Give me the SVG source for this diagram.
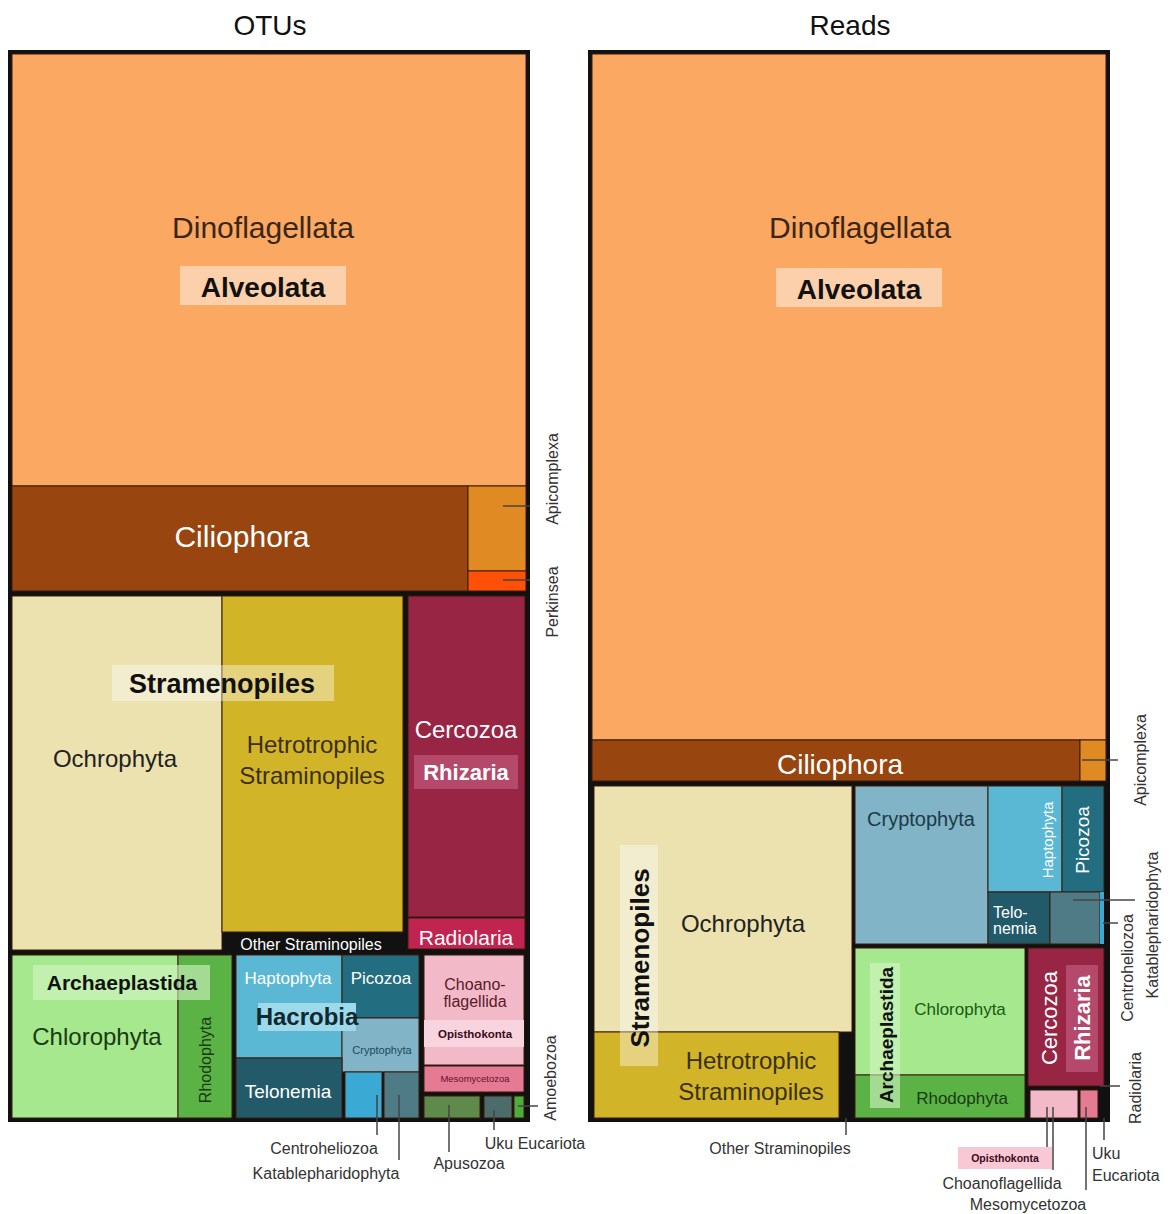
<svg xmlns="http://www.w3.org/2000/svg" width="1173" height="1214" viewBox="0 0 1173 1214">
<style>
text{font-family:"Liberation Sans",Arial,sans-serif;}
.frame{fill:#111;stroke:#111;stroke-width:4;}
.c{stroke:#3a1a0a;stroke-width:1;}
.t{text-anchor:middle;}
.b{font-weight:bold;}
.w{fill:#fff;}
.lead{stroke:#444;stroke-width:1.5;fill:none;}
.small{font-size:16px;fill:#333;}
.dino{fill:#FBA862;}
.cil{fill:#98450F;}
.api{fill:#E08A24;}
.och{fill:#ECE2B0;}
.het{fill:#D2B428;}
.cer{fill:#992545;}
.chl{fill:#A5E88D;}
.rho{fill:#5BB346;}
.hap{fill:#5AB8D4;}
.pic{fill:#226D80;}
.cry{fill:#80B4C6;}
.tel{fill:#225A6A;}
.cen{fill:#3AAAD4;}
.kat{fill:#4F7B86;}
.cho{fill:#F2B9C8;}
.mes{fill:#E57A94;}
</style>
<rect width="1173" height="1214" fill="#fff"/>
<text x="270" y="35" class="t" font-size="28" fill="#111">OTUs</text>
<text x="850" y="35" class="t" font-size="28" fill="#111">Reads</text>

<!-- LEFT TREEMAP -->
<g id="otus">
<rect class="frame" x="10" y="52" width="518" height="1068"/>
<g id="L-Dinoflagellata"><rect class="c dino" x="12" y="54" width="514" height="432"/>
<text x="263" y="238" class="t" font-size="30" fill="#3a2616">Dinoflagellata</text></g>
<g id="L-Alveolata"><rect x="180" y="266" width="166" height="39" fill="#FDD0AC"/>
<text x="263" y="297" class="t b" font-size="28" fill="#111">Alveolata</text></g>
<g id="L-Ciliophora"><rect class="c cil" x="12" y="486" width="456" height="105"/>
<text x="242" y="547" class="t w" font-size="30">Ciliophora</text></g>
<g id="L-Apicomplexa"><rect class="c api" x="468" y="486" width="58" height="85"/></g>
<g id="L-Perkinsea"><rect class="c" x="468" y="571" width="58" height="20" fill="#FF5008"/></g>
<g id="L-Ochrophyta"><rect class="c och" x="12" y="596" width="210" height="354"/>
<text x="115" y="767" class="t" font-size="24" fill="#222">Ochrophyta</text></g>
<g id="L-Hetrotrophic"><rect class="c het" x="222" y="596" width="181" height="336"/>
<text x="312" y="753" class="t" font-size="24" fill="#3a3010">Hetrotrophic</text>
<text x="312" y="784" class="t" font-size="24" fill="#3a3010">Straminopiles</text></g>
<g id="L-Stramenopiles"><rect x="112" y="665" width="222" height="36" fill="#fff" fill-opacity="0.4"/>
<text x="222" y="693" class="t b" font-size="27" fill="#111">Stramenopiles</text></g>
<g id="L-OtherStraminopiles"><text x="311" y="950" class="t w" font-size="16">Other Straminopiles</text></g>
<g id="L-Cercozoa"><rect class="c cer" x="408" y="596" width="117" height="321"/>
<text x="466" y="738" class="t w" font-size="24">Cercozoa</text></g>
<g id="L-Rhizaria"><rect x="414" y="755" width="104" height="34" fill="#B5496B"/>
<text x="466" y="780" class="t b w" font-size="22">Rhizaria</text></g>
<g id="L-Radiolaria"><rect class="c" x="408" y="918" width="117" height="31" fill="#C02450"/>
<text x="466" y="945" class="t w" font-size="21">Radiolaria</text></g>
<g id="L-Chlorophyta"><rect class="c chl" x="12" y="955" width="166" height="163"/>
<text x="97" y="1045" class="t" font-size="24" fill="#1a3a10">Chlorophyta</text></g>
<g id="L-Rhodophyta"><rect class="c rho" x="178" y="955" width="54" height="163"/>
<text transform="translate(211,1060) rotate(-90)" class="t" font-size="16" fill="#1a3a10">Rhodophyta</text></g>
<g id="L-Archaeplastida"><rect x="33" y="965" width="177" height="35" fill="#D4F5C6" fill-opacity="0.6"/>
<text x="122" y="990" class="t b" font-size="21" fill="#111">Archaeplastida</text></g>
<g id="L-Haptophyta"><rect class="c hap" x="236" y="955" width="106" height="103"/>
<text x="288" y="984" class="t w" font-size="17">Haptophyta</text></g>
<g id="L-Picozoa"><rect class="c pic" x="342" y="955" width="77" height="63"/>
<text x="381" y="984" class="t w" font-size="17">Picozoa</text></g>
<g id="L-Cryptophyta"><rect class="c cry" x="342" y="1018" width="77" height="54"/>
<text x="382" y="1054" class="t" font-size="11" fill="#1d4a5a">Cryptophyta</text></g>
<g id="L-Telonemia"><rect class="c tel" x="236" y="1058" width="106" height="60"/>
<text x="288" y="1098" class="t w" font-size="19">Telonemia</text></g>
<g id="L-Centroheliozoa"><rect class="c cen" x="345" y="1072" width="37" height="46"/></g>
<g id="L-Katablepharidophyta"><rect class="c kat" x="384" y="1072" width="35" height="46"/></g>
<g id="L-Hacrobia"><rect x="258" y="1003" width="98" height="28" fill="#9DD9E8"/>
<text x="307" y="1025" class="t b" font-size="24" fill="#102830">Hacrobia</text></g>
<g id="L-Choanoflagellida"><rect class="c cho" x="424" y="955" width="100" height="110"/>
<text x="475" y="990" class="t" font-size="16" fill="#5a1a2a">Choano-</text>
<text x="475" y="1007" class="t" font-size="16" fill="#5a1a2a">flagellida</text></g>
<g id="L-Opisthokonta"><rect x="424" y="1020" width="100" height="27" fill="#F8D5DE"/>
<text x="475" y="1038" class="t b" font-size="11.5" fill="#3a0a1a">Opisthokonta</text></g>
<g id="L-Mesomycetozoa"><rect class="c mes" x="424" y="1066" width="100" height="26"/>
<text x="475" y="1082" class="t" font-size="9.5" fill="#6a1028">Mesomycetozoa</text></g>
<g id="L-Apusozoa"><rect class="c" x="424" y="1096" width="56" height="22" fill="#5E8B4C"/></g>
<g id="L-UkuEucariota"><rect class="c" x="484" y="1096" width="28" height="22" fill="#4C6C6C"/></g>
<g id="L-Amoebozoa"><rect class="c" x="514" y="1096" width="10" height="22" fill="#4CAE3A"/></g>
</g>

<!-- RIGHT TREEMAP -->
<g id="reads">
<rect class="frame" x="590" y="52" width="518" height="1068"/>
<g id="R-Dinoflagellata"><rect class="c dino" x="592" y="54" width="514" height="686"/>
<text x="860" y="238" class="t" font-size="30" fill="#3a2616">Dinoflagellata</text></g>
<g id="R-Alveolata"><rect x="776" y="268" width="166" height="39" fill="#FDD0AC"/>
<text x="859" y="299" class="t b" font-size="28" fill="#111">Alveolata</text></g>
<g id="R-Ciliophora"><rect class="c cil" x="592" y="740" width="488" height="41"/>
<text x="840" y="774" class="t w" font-size="28">Ciliophora</text></g>
<g id="R-Apicomplexa"><rect class="c api" x="1080" y="740" width="26" height="41"/></g>
<g id="R-Ochrophyta"><rect class="c och" x="594" y="786" width="258" height="246"/>
<text x="743" y="932" class="t" font-size="24" fill="#222">Ochrophyta</text></g>
<g id="R-Hetrotrophic"><rect class="c het" x="594" y="1032" width="245" height="86"/>
<text x="751" y="1069" class="t" font-size="24" fill="#3a3010">Hetrotrophic</text>
<text x="751" y="1100" class="t" font-size="24" fill="#3a3010">Straminopiles</text></g>
<g id="R-Stramenopiles"><rect x="620" y="845" width="38" height="221" fill="#fff" fill-opacity="0.4"/>
<text transform="translate(649,958) rotate(-90)" class="t b" font-size="26" fill="#111">Stramenopiles</text></g>
<g id="R-Cryptophyta"><rect class="c cry" x="855" y="786" width="133" height="158"/>
<text x="921" y="826" class="t" font-size="20" fill="#1d3a48">Cryptophyta</text></g>
<g id="R-Haptophyta"><rect class="c hap" x="988" y="786" width="74" height="106"/>
<text transform="translate(1053,840) rotate(-90)" class="t w" font-size="15">Haptophyta</text></g>
<g id="R-Picozoa"><rect class="c pic" x="1062" y="786" width="42" height="106"/>
<text transform="translate(1089,840) rotate(-90)" class="t w" font-size="19">Picozoa</text></g>
<g id="R-Telonemia"><rect class="c tel" x="988" y="892" width="62" height="52"/>
<text x="993" y="918" font-size="16" class="w">Telo-</text>
<text x="993" y="934" font-size="16" class="w">nemia</text></g>
<g id="R-Katablepharidophyta"><rect class="c kat" x="1050" y="892" width="50" height="52"/></g>
<g id="R-Centroheliozoa"><rect x="1100" y="892" width="4" height="52" fill="#3AAAD4"/></g>
<g id="R-Chlorophyta"><rect class="c chl" x="855" y="948" width="170" height="127"/>
<text x="960" y="1015" class="t" font-size="17" fill="#1a5a10">Chlorophyta</text></g>
<g id="R-Rhodophyta"><rect class="c rho" x="855" y="1075" width="170" height="43"/>
<text x="962" y="1104" class="t" font-size="17" fill="#1a3a10">Rhodophyta</text></g>
<g id="R-Archaeplastida"><rect x="870" y="963" width="30" height="145" fill="#D4F5C6" fill-opacity="0.6"/>
<text transform="translate(893,1035) rotate(-90)" class="t b" font-size="19" fill="#111">Archaeplastida</text></g>
<g id="R-Cercozoa"><rect class="c cer" x="1028" y="948" width="76" height="138"/>
<text transform="translate(1057,1018) rotate(-90)" class="t w" font-size="22">Cercozoa</text></g>
<g id="R-Rhizaria"><rect x="1066" y="965" width="32" height="107" fill="#B5496B"/>
<text transform="translate(1090,1018) rotate(-90)" class="t b w" font-size="22">Rhizaria</text></g>
<g id="R-Choanoflagellida"><rect class="c cho" x="1030" y="1090" width="48" height="28"/></g>
<g id="R-Mesomycetozoa"><rect class="c mes" x="1080" y="1090" width="18" height="28"/></g>
</g>

<!-- CONNECTORS -->
<g id="connectors">
<line class="lead" x1="503" y1="506" x2="530" y2="506"/>
<line class="lead" x1="503" y1="580" x2="530" y2="580"/>
<line class="lead" x1="518" y1="1106" x2="538" y2="1106"/>
<line class="lead" x1="377" y1="1095" x2="377" y2="1135"/>
<line class="lead" x1="399" y1="1095" x2="399" y2="1160"/>
<line class="lead" x1="449" y1="1105" x2="449" y2="1152"/>
<line class="lead" x1="494" y1="1110" x2="494" y2="1130"/>
<line class="lead" x1="1082" y1="760" x2="1118" y2="760"/>
<line class="lead" x1="1073" y1="900" x2="1135" y2="900"/>
<line class="lead" x1="1103" y1="923" x2="1118" y2="923"/>
<line class="lead" x1="1100" y1="1086" x2="1120" y2="1086"/>
<line class="lead" x1="846" y1="1118" x2="846" y2="1135"/>
<line class="lead" x1="1047" y1="1107" x2="1047" y2="1147"/>
<line class="lead" x1="1053" y1="1107" x2="1053" y2="1170"/>
<line class="lead" x1="1086" y1="1107" x2="1086" y2="1190"/>
<line class="lead" x1="1104" y1="1118" x2="1104" y2="1140"/>
</g>

<!-- OUTSIDE LABELS -->
<g id="labels">
<text transform="translate(558,479) rotate(-90)" class="t small">Apicomplexa</text>
<text transform="translate(558,602) rotate(-90)" class="t small">Perkinsea</text>
<text transform="translate(556,1078) rotate(-90)" class="t small">Amoebozoa</text>
<text x="324" y="1154" class="t small">Centroheliozoa</text>
<text x="326" y="1179" class="t small">Katablepharidophyta</text>
<text x="469" y="1169" class="t small">Apusozoa</text>
<text x="535" y="1149" class="t small">Uku Eucariota</text>
<text transform="translate(1146,760) rotate(-90)" class="t small" font-size="15">Apicomplexa</text>
<text transform="translate(1133,968) rotate(-90)" class="t small" font-size="15">Centroheliozoa</text>
<text transform="translate(1158,925) rotate(-90)" class="t small" font-size="15">Katablepharidophyta</text>
<text transform="translate(1141,1088) rotate(-90)" class="t small" font-size="15">Radiolaria</text>
<text x="780" y="1154" class="t small">Other Straminopiles</text>
<rect x="958" y="1147" width="94" height="22" fill="#F8C8D4"/>
<text x="1005" y="1162" class="t b" font-size="10.5" fill="#3a0a1a">Opisthokonta</text>
<text x="1002" y="1189" class="t small">Choanoflagellida</text>
<text x="1028" y="1210" class="t small">Mesomycetozoa</text>
<text x="1092" y="1159" class="small">Uku</text>
<text x="1092" y="1181" class="small">Eucariota</text>
</g>
</svg>
